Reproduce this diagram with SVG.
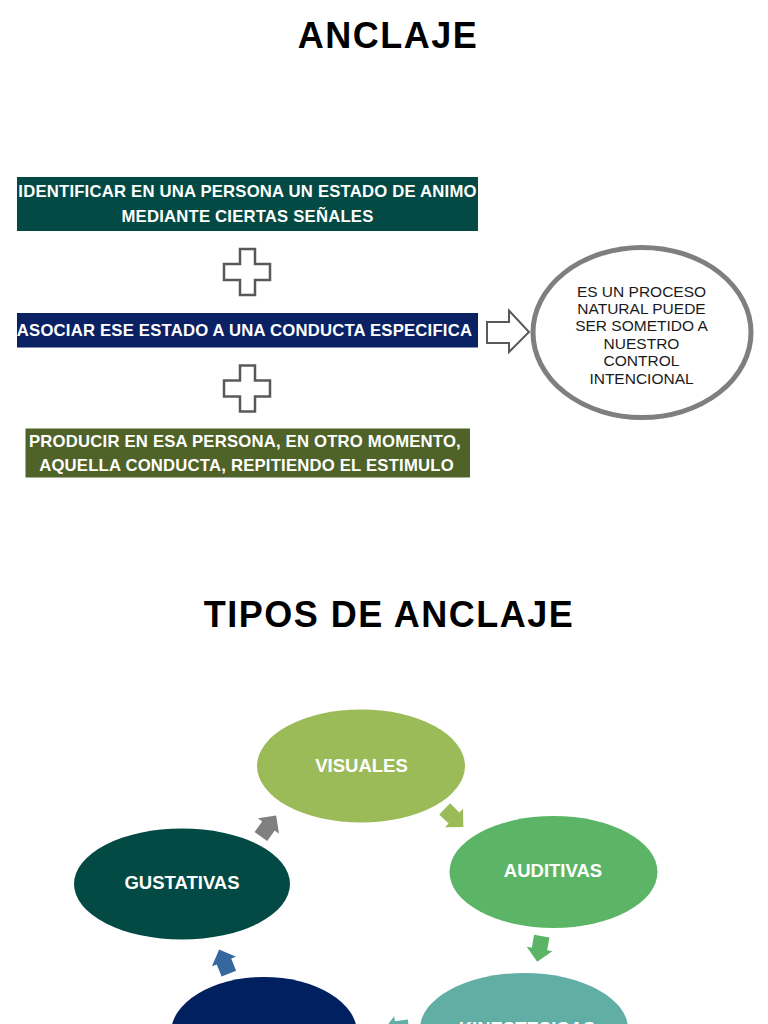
<svg xmlns="http://www.w3.org/2000/svg" width="768" height="1024" viewBox="0 0 768 1024">
<defs>
<style>
.title{font-family:"Liberation Sans",Arial,sans-serif;font-weight:bold;font-size:36px;letter-spacing:1.5px;fill:#000;text-anchor:middle}
.box{font-family:"Liberation Sans",Arial,sans-serif;font-weight:bold;font-size:16.7px;letter-spacing:0.2px;fill:#fff;text-anchor:middle}
.oval{font-family:"Liberation Sans",Arial,sans-serif;font-size:15.5px;fill:#1a1a1a;text-anchor:middle}
.cyc{font-family:"Liberation Sans",Arial,sans-serif;font-weight:bold;font-size:18.5px;fill:#fff;text-anchor:middle}
.plus{fill:#fff;stroke:#595959;stroke-width:2.5;stroke-linejoin:miter}
.blk{fill:#fff;stroke:#595959;stroke-width:2}
</style>
<polygon id="arr" points="-13,-7.8 0,-7.8 0,-13 13,0 0,13 0,7.8 -13,7.8"/>
<polygon id="cross" points="240,249 255,249 255,264 270,264 270,280 255,280 255,295 240,295 240,280 224,280 224,264 240,264"/>
</defs>
<rect width="768" height="1024" fill="#fff"/>

<text class="title" x="388" y="48">ANCLAJE</text>

<g id="box1">
<rect x="17" y="177" width="461" height="54" fill="#024a43"/>
<text class="box" x="247.5" y="197">IDENTIFICAR EN UNA PERSONA UN ESTADO DE ANIMO</text>
<text class="box" x="247.5" y="221.5">MEDIANTE CIERTAS SEÑALES</text>
</g>
<g id="plus1"><use href="#cross" class="plus"/></g>
<g id="box2">
<rect x="17" y="313" width="461" height="34.5" fill="#0a2163"/>
<text class="box" x="244.5" y="335.5">ASOCIAR ESE ESTADO A UNA CONDUCTA ESPECIFICA</text>
</g>
<g id="plus2"><use href="#cross" class="plus" transform="translate(0,116.5)"/></g>
<g id="box3">
<rect x="25.5" y="428.5" width="444.5" height="49" fill="#4f6228"/>
<text class="box" x="245" y="446.5">PRODUCIR EN ESA PERSONA, EN OTRO MOMENTO,</text>
<text class="box" x="246.5" y="471">AQUELLA CONDUCTA, REPITIENDO EL ESTIMULO</text>
</g>

<g id="connectors">
<polygon class="blk" points="487,322 509,322 509,310.5 529,332 509,352 509,343 487,343"/>
<use href="#arr" fill="#808080" transform="translate(268.5,826) rotate(-54)"/>
<use href="#arr" fill="#9bbb59" transform="translate(454,818) rotate(44)"/>
<use href="#arr" fill="#5cb567" transform="translate(539.5,949) rotate(100)"/>
<use href="#arr" fill="#60aea4" transform="translate(396,1029) rotate(172)"/>
<use href="#arr" fill="#36679f" transform="translate(224,961.5) rotate(-112)"/>
</g>

<g id="note">
<ellipse cx="642" cy="332.5" rx="109" ry="85" fill="#fff" stroke="#7f7f7f" stroke-width="5"/>
<text class="oval" x="641.5" y="296.5">ES UN PROCESO</text>
<text class="oval" x="641.5" y="313.9">NATURAL PUEDE</text>
<text class="oval" x="641.5" y="331.3">SER SOMETIDO A</text>
<text class="oval" x="641.5" y="348.7">NUESTRO</text>
<text class="oval" x="641.5" y="366.1">CONTROL</text>
<text class="oval" x="641.5" y="383.5">INTENCIONAL</text>
</g>

<text class="title" x="389" y="627">TIPOS DE ANCLAJE</text>

<g id="visuales">
<ellipse cx="361" cy="766" rx="104" ry="56.5" fill="#9bbb59"/>
<text class="cyc" x="361.5" y="772">VISUALES</text>
</g>
<g id="auditivas">
<ellipse cx="553.5" cy="872" rx="104" ry="56" fill="#5cb567"/>
<text class="cyc" x="553" y="877">AUDITIVAS</text>
</g>
<g id="kinestesicas">
<ellipse cx="524" cy="1029" rx="104" ry="56" fill="#60aea4"/>
<text class="cyc" x="527" y="1034.5">KINESTESICAS</text>
</g>
<g id="navy">
<ellipse cx="264" cy="1033" rx="93" ry="56" fill="#00205f"/>
</g>
<g id="gustativas">
<ellipse cx="182" cy="884" rx="108" ry="55.5" fill="#034a44"/>
<text class="cyc" x="182" y="889">GUSTATIVAS</text>
</g>
</svg>
